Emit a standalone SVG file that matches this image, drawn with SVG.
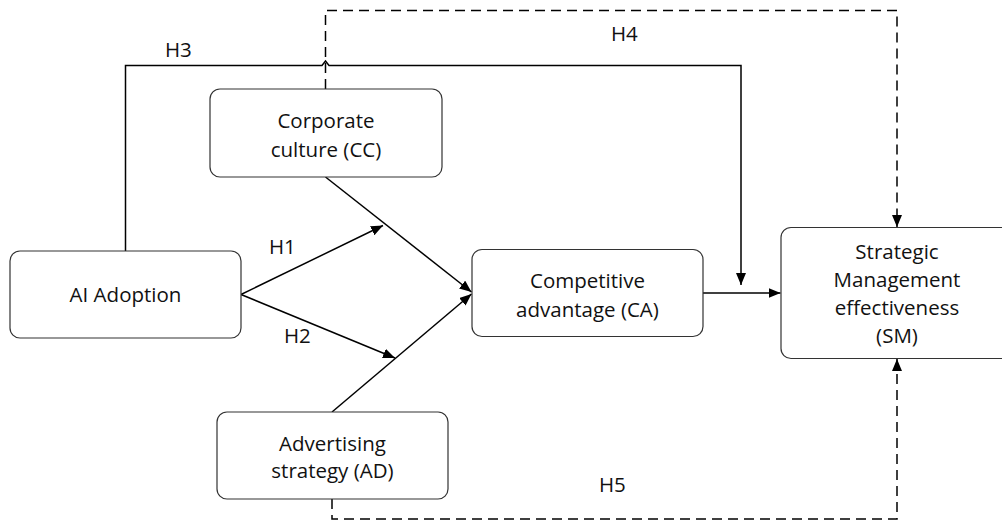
<svg xmlns="http://www.w3.org/2000/svg" width="1002" height="520" viewBox="0 0 1002 520">
<defs>
<marker id="arr" markerUnits="userSpaceOnUse" markerWidth="13" markerHeight="11" refX="12" refY="5" orient="auto">
<path d="M0,0 L12,5 L0,10 z" fill="#000"/>
</marker>
<style>
.box{fill:#fff;stroke:#333;stroke-width:1.2}
.t{font-family:"Open Sans","Liberation Sans",sans-serif;font-size:20.5px;fill:#111;text-anchor:middle}
.lbl{font-family:"Open Sans","Liberation Sans",sans-serif;font-size:20.5px;fill:#111}
.c{fill:none;stroke:#000;stroke-width:1.5}
.d{fill:none;stroke:#000;stroke-width:1.5;stroke-dasharray:10,6}
</style>
</defs>
<rect width="1002" height="520" fill="#fff"/>
<g id="connectors">
<path class="d" d="M325.5,89 L325.5,10.5 L897,10.5 L897,227" marker-end="url(#arr)"/>
<path class="c" d="M125.5,251 L125.5,65.5 L322,65.5 L325.5,61 L329,65.5 L741,65.5 L741,285" marker-end="url(#arr)"/>
<path class="c" d="M241,294.5 L383,225.5" marker-end="url(#arr)"/>
<path class="c" d="M241,294.5 L395,358" marker-end="url(#arr)"/>
<path class="c" d="M325.5,177 L471.5,292" marker-end="url(#arr)"/>
<path class="c" d="M332,412 L471.5,294" marker-end="url(#arr)"/>
<path class="c" d="M703,293 L780.5,293" marker-end="url(#arr)"/>
<path class="d" d="M332,499 L332,519 L897,519 L897,359" marker-end="url(#arr)"/>
</g>
<g id="labels">
<text class="lbl" x="165" y="57">H3</text>
<text class="lbl" x="611" y="41">H4</text>
<text class="lbl" x="269" y="254">H1</text>
<text class="lbl" x="284" y="343">H2</text>
<text class="lbl" x="599" y="492">H5</text>
</g>
<g id="ai">
<rect class="box" x="10" y="251" width="231" height="87" rx="10"/>
<text class="t" x="125.5" y="302">AI Adoption</text>
</g>
<g id="cc">
<rect class="box" x="210" y="89" width="232" height="88" rx="10"/>
<text class="t" x="326" y="128">Corporate</text>
<text class="t" x="326" y="157">culture (CC)</text>
</g>
<g id="ca">
<rect class="box" x="472" y="249.5" width="231" height="87" rx="10"/>
<text class="t" x="587.5" y="288">Competitive</text>
<text class="t" x="587.5" y="317">advantage (CA)</text>
</g>
<g id="sm">
<rect class="box" x="781" y="227.5" width="232" height="131" rx="10"/>
<text class="t" x="897" y="259">Strategic</text>
<text class="t" x="897" y="287">Management</text>
<text class="t" x="897" y="315">effectiveness</text>
<text class="t" x="897" y="343">(SM)</text>
</g>
<g id="ad">
<rect class="box" x="217" y="412" width="231" height="87" rx="10"/>
<text class="t" x="332.5" y="451">Advertising</text>
<text class="t" x="332.5" y="478">strategy (AD)</text>
</g>
</svg>
